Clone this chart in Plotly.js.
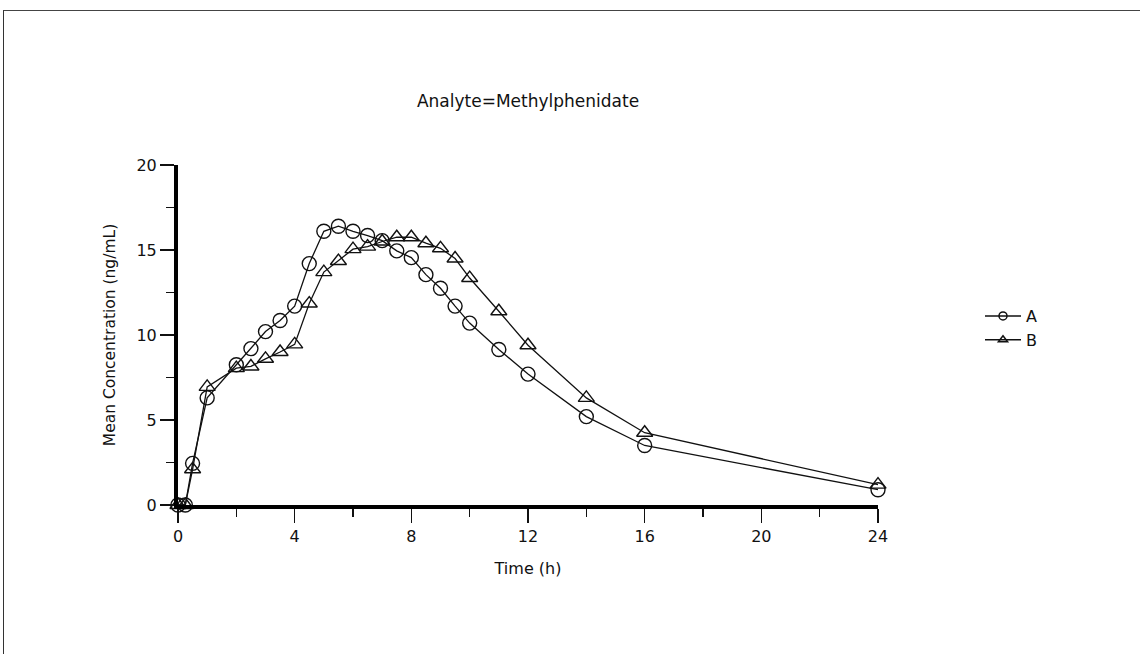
<!DOCTYPE html>
<html>
<head>
<meta charset="utf-8">
<script src="https://cdn.plot.ly/plotly-3.0.1.min.js"></script>
<style>
  html, body { margin: 0; padding: 0; background: #fff; }
  #wrap { position: relative; width: 1140px; height: 654px; overflow: hidden; }
  #chart { width: 1140px; height: 654px; }
  #frame { position: absolute; left: 3px; top: 10px; width: 1300px; height: 800px;
           border-left: 1.5px solid #333; border-top: 1.5px solid #444; pointer-events: none; }
</style>
</head>
<body>
<div id="wrap">
  <div id="chart"></div>
  <div id="frame"></div>
</div>
<script>
const timeH = [0, 0.25, 0.5, 1, 2, 2.5, 3, 3.5, 4, 4.5, 5, 5.5, 6, 6.5, 7, 7.5, 8, 8.5, 9, 9.5, 10, 11, 12, 14, 16, 24];
const seriesA = [0, 0, 2.45, 6.3, 8.25, 9.2, 10.2, 10.85, 11.7, 14.2, 16.1, 16.4, 16.1, 15.85, 15.55, 14.95, 14.55, 13.55, 12.75, 11.7, 10.7, 9.15, 7.7, 5.2, 3.5, 0.9];
const seriesB = [0, 0, 2.1, 6.95, 8.05, 8.15, 8.6, 9.0, 9.45, 11.85, 13.7, 14.35, 15.05, 15.2, 15.5, 15.75, 15.75, 15.4, 15.1, 14.5, 13.35, 11.4, 9.4, 6.3, 4.25, 1.2];
const seriesNames = ['A', 'B'];
const xTicks = [0, 4, 8, 12, 16, 20, 24];
const yTicks = [0, 5, 10, 15, 20];

const FONT = 'DejaVu Sans, Verdana, sans-serif';
const TXT = '#111';
const FS = 16;

function trace(y, name, sym, show) {
  return {
    x: timeH, y: y, name: name, type: 'scatter', mode: 'lines+markers',
    line: {color: '#111', width: 1.3},
    marker: {symbol: sym, size: 14, color: '#111', line: {color: '#111', width: 1.4}},
    cliponaxis: false, showlegend: show
  };
}
function legendTrace(name, sym) {
  return {
    x: [null], y: [null], name: name, type: 'scatter', mode: 'lines+markers',
    line: {color: '#111', width: 1.5},
    marker: {symbol: sym, size: 8, color: '#111', line: {color: '#111', width: 1.5}},
    showlegend: true
  };
}

const data = [
  trace(seriesA, seriesNames[0], 'circle-open', false),
  trace(seriesB, seriesNames[1], 'triangle-up-open', false),
  legendTrace(seriesNames[0], 'circle-open'),
  legendTrace(seriesNames[1], 'triangle-up-open')
];

const layout = {
  width: 1140, height: 654,
  margin: {l: 178, r: 262, t: 165, b: 149, pad: 0},
  paper_bgcolor: '#fff', plot_bgcolor: '#fff',
  font: {family: FONT, size: FS, color: TXT},
  title: {text: 'Analyte=Methylphenidate', font: {family: FONT, size: 17, color: TXT},
          x: 0.5, xref: 'paper', y: 1 - 101/654, yref: 'container', yanchor: 'middle'},
  xaxis: {
    range: [0, 24], tickvals: xTicks, ticktext: xTicks.map(String),
    showgrid: false, zeroline: false, showline: true, linecolor: '#000', linewidth: 4,
    ticks: 'outside', ticklen: 14, tickwidth: 1.6, tickcolor: '#111',
    minor: {tickvals: [2, 6, 10, 14, 18, 22], ticks: 'outside', ticklen: 8, tickwidth: 1.6, tickcolor: '#111', showgrid: false},
    tickfont: {family: FONT, size: FS, color: TXT},
    title: {text: 'Time (h)', font: {family: FONT, size: FS, color: TXT}, standoff: 19}
  },
  yaxis: {
    range: [0, 20], tickvals: yTicks, ticktext: yTicks.map(String),
    showgrid: false, zeroline: false, showline: true, linecolor: '#000', linewidth: 4,
    ticks: 'outside', ticklen: 14, tickwidth: 1.6, tickcolor: '#111',
    minor: {tickvals: [2.5, 7.5, 12.5, 17.5], ticks: 'outside', ticklen: 8, tickwidth: 1.6, tickcolor: '#111', showgrid: false},
    tickfont: {family: FONT, size: FS, color: TXT},
    title: {text: 'Mean Concentration (ng/mL)', font: {family: FONT, size: 15.5, color: TXT}, standoff: 18}
  },
  legend: {
    x: (980 - 178) / 700, xanchor: 'left', y: (505 - 328) / 340, yanchor: 'middle',
    font: {family: FONT, size: FS, color: TXT}, bgcolor: 'rgba(0,0,0,0)',
    itemwidth: 36, tracegroupgap: 0
  },
  showlegend: true
};

Plotly.newPlot('chart', data, layout, {displayModeBar: false, staticPlot: true});
</script>
</body>
</html>
